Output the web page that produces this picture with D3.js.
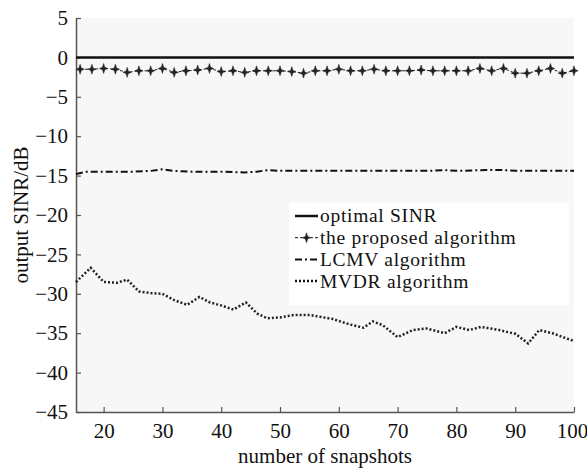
<!DOCTYPE html>
<html>
<head>
<meta charset="utf-8">
<script src="https://cdn.jsdelivr.net/npm/d3@7"></script>
<style>
  body { margin: 0; background: #fff; }
  text { font-family: "Liberation Serif", "Times New Roman", serif; fill: #111; }
</style>
</head>
<body>
<svg id="chart" width="587" height="469"></svg>
<script>
// x ticks and y ticks
const xTicks = [20, 30, 40, 50, 60, 70, 80, 90, 100];
const yTicks = [5, 0, -5, -10, -15, -20, -25, -30, -35, -40, -45];

// optimal SINR
const optimalX = [15.3, 100];
const optimalY = [0, 0];

// proposed algorithm (one marker every 2 snapshots)
const proposedX = [16, 18, 20, 22, 24, 26, 28, 30, 32, 34, 36, 38, 40, 42, 44, 46, 48, 50, 52, 54, 56,
  58, 60, 62, 64, 66, 68, 70, 72, 74, 76, 78, 80, 82, 84, 86, 88, 90, 92, 94, 96, 98, 100];
const proposedY = [-1.5, -1.5, -1.4, -1.5, -1.9, -1.7, -1.7, -1.4, -1.9, -1.7, -1.6, -1.4, -1.8, -1.7, -1.9, -1.7, -1.7, -1.7, -1.8, -2.0, -1.7,
  -1.7, -1.5, -1.7, -1.7, -1.5, -1.7, -1.7, -1.7, -1.6, -1.7, -1.7, -1.7, -1.7, -1.4, -1.7, -1.4, -2.0, -2.0, -1.7, -1.4, -2.0, -1.7];

// LCMV algorithm
const lcmvX = [15.3, 17, 20, 25, 28, 30, 32, 35, 40, 44, 46, 48, 50, 55, 60, 65, 70, 75, 78, 80, 85, 88, 90, 95, 100];
const lcmvY = [-14.8, -14.5, -14.5, -14.5, -14.4, -14.2, -14.4, -14.5, -14.5, -14.6, -14.5, -14.3, -14.4, -14.4, -14.4, -14.4, -14.4, -14.4, -14.3, -14.4, -14.3, -14.3, -14.4, -14.4, -14.4];

// MVDR algorithm
const mvdrX = [15.3, 17.8, 20, 22.3, 24, 26, 28, 30, 32, 34.2, 36.3, 38.1, 40.1, 42.1, 44.2, 46.1, 47.8, 50, 52.3, 55.1,
  59, 61.9, 64.2, 65.8, 67.5, 70, 72.6, 74.9, 78, 80, 82.2, 84.2, 87.3, 90.1, 92.2, 94.1, 96.3, 100];
const mvdrY = [-28.5, -26.7, -28.5, -28.6, -28.2, -29.7, -29.9, -30.0, -30.8, -31.4, -30.4, -31.1, -31.5, -32.0, -31.1, -32.5, -33.1, -33.0, -32.7, -32.7,
  -33.2, -33.9, -34.3, -33.5, -34.0, -35.5, -34.6, -34.4, -35.0, -34.2, -34.6, -34.2, -34.6, -35.1, -36.3, -34.6, -35.0, -36.0];

const legendNames = ['optimal SINR', 'the proposed algorithm', 'LCMV algorithm', 'MVDR algorithm'];

const svg = d3.select('#chart');

// plot area
const plotLeft = 76, plotRight = 574, plotTop = 18, plotBottom = 412;
const x = d3.scaleLinear().domain([15.3, 100]).range([plotLeft, plotRight]);
const y = d3.scaleLinear().domain([-45, 5]).range([plotBottom, plotTop]);

svg.append('rect')
  .attr('x', plotLeft).attr('y', plotTop)
  .attr('width', plotRight - plotLeft).attr('height', plotBottom - plotTop)
  .attr('fill', '#f7f7f7');

// axes, ticks point inward
const xAxis = svg.append('g')
  .attr('transform', `translate(0,${plotBottom})`)
  .call(d3.axisBottom(x).tickValues(xTicks).tickSizeInner(-5).tickSizeOuter(0).tickPadding(11));
const yAxis = svg.append('g')
  .attr('transform', `translate(${plotLeft},0)`)
  .call(d3.axisLeft(y).tickValues(yTicks).tickSizeInner(-5).tickSizeOuter(0).tickPadding(8)
    .tickFormat(d => d < 0 ? '\u2212' + Math.abs(d) : d));

[xAxis, yAxis].forEach(a => {
  a.select('.domain').attr('stroke', '#555').attr('stroke-width', 1.5);
  a.selectAll('.tick line').attr('stroke', '#555').attr('stroke-width', 1.2);
  a.selectAll('.tick text')
    .attr('font-family', '"Liberation Serif", serif')
    .attr('font-size', 21).attr('fill', '#111');
});
// keep the last x label inside the picture
xAxis.selectAll('.tick text').filter(d => d === 100).attr('dx', -2);

// axis titles
svg.append('text')
  .attr('x', (plotLeft + plotRight) / 2).attr('y', 463)
  .attr('text-anchor', 'middle')
  .attr('font-size', 21)
  .text('number of snapshots');
svg.append('text')
  .attr('transform', `translate(28,${(plotTop + plotBottom) / 2}) rotate(-90)`)
  .attr('text-anchor', 'middle')
  .attr('font-size', 21)
  .text('output SINR/dB');

const line = d3.line().x(d => x(d[0])).y(d => y(d[1]));
const zip = (a, b) => a.map((v, i) => [v, b[i]]);

// styles for each series
const styles = [
  { dash: null, width: 2.5 },
  { dash: '3,2', width: 1 },
  { dash: '7,3,2,3', width: 2 },
  { dash: '2,2', width: 2.5 }
];

const plot = svg.append('g');
plot.append('path').datum(zip(optimalX, optimalY))
  .attr('d', line).attr('fill', 'none').attr('stroke', '#111')
  .attr('stroke-width', styles[0].width);
plot.append('path').datum(zip(proposedX, proposedY))
  .attr('d', line).attr('fill', 'none').attr('stroke', '#222')
  .attr('stroke-width', styles[1].width).attr('stroke-dasharray', styles[1].dash);
plot.append('path').datum(zip(lcmvX, lcmvY))
  .attr('d', line).attr('fill', 'none').attr('stroke', '#111')
  .attr('stroke-width', styles[2].width).attr('stroke-dasharray', styles[2].dash);
plot.append('path').datum(zip(mvdrX, mvdrY))
  .attr('d', line).attr('fill', 'none').attr('stroke', '#222')
  .attr('stroke-width', styles[3].width).attr('stroke-dasharray', styles[3].dash);

// plus marker with a bold centre
function drawMarker(g, cx, cy) {
  g.append('path')
    .attr('d', `M${cx},${cy - 5}L${cx + 1.2},${cy - 1.2}L${cx + 4.2},${cy}L${cx + 1.2},${cy + 1.2}L${cx},${cy + 5}L${cx - 1.2},${cy + 1.2}L${cx - 4.2},${cy}L${cx - 1.2},${cy - 1.2}Z`)
    .attr('fill', '#222').attr('stroke', '#222').attr('stroke-width', 0.5);
}
const markers = plot.append('g');
proposedX.forEach((v, i) => drawMarker(markers, x(v), y(proposedY[i])));

// legend
const legend = svg.append('g');
legend.append('rect')
  .attr('x', 289).attr('y', 203).attr('width', 280).attr('height', 102)
  .attr('fill', '#fff');
legendNames.forEach((name, i) => {
  const ly = 216 + i * 21.7;
  legend.append('line')
    .attr('x1', 295).attr('x2', 318).attr('y1', ly).attr('y2', ly)
    .attr('stroke', '#111')
    .attr('stroke-width', styles[i].width)
    .attr('stroke-dasharray', styles[i].dash);
  if (i === 1) drawMarker(legend, 306.5, ly);
  legend.append('text')
    .attr('x', 320).attr('y', ly)
    .attr('dy', '0.33em')
    .attr('font-size', 19.5)
    .attr('letter-spacing', 0.7)
    .text(name);
});
</script>
</body>
</html>
